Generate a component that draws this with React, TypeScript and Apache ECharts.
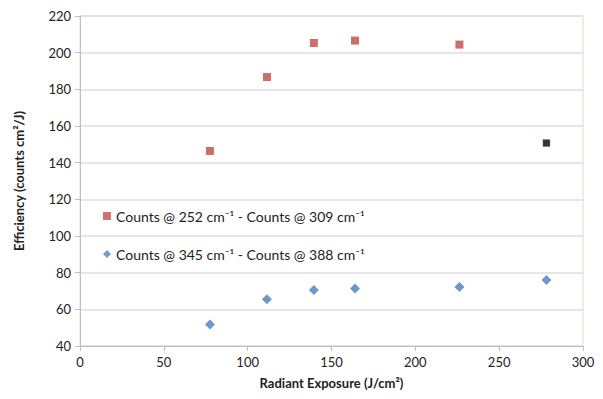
import React, { useEffect, useRef } from "react";
import * as echarts from "echarts";

const redName = "Counts @ 252 cm\u207B\u00B9 - Counts @ 309 cm\u207B\u00B9";
const blueName = "Counts @ 345 cm\u207B\u00B9 - Counts @ 388 cm\u207B\u00B9";

const exposure = [77.5, 111.5, 139.5, 164, 226.3];
const redValues = [146.4, 186.7, 205.3, 206.6, 204.4];
const blackPoint = [[278.2, 150.7]];
const blueExposure = [77.5, 111.5, 139.5, 164, 226.3, 278.2];
const blueValues = [51.7, 65.5, 70.5, 71.3, 72.2, 76];

const FONT = "Lato";

export default function App() {
  const ref = useRef<HTMLDivElement>(null);
  useEffect(() => {
    if (!ref.current) return;
    const chart = echarts.init(ref.current, undefined, { renderer: "svg" });
    chart.setOption({
      animation: false,
      backgroundColor: "#ffffff",
      textStyle: { fontFamily: FONT },
      grid: {
        left: 80,
        right: 20,
        top: 16,
        bottom: 53,
        show: true,
        borderColor: "#dcdccc",
        borderWidth: 1,
      },
      legend: {
        orient: "vertical",
        left: 98,
        top: 204,
        itemGap: 24,
        itemWidth: 8,
        itemHeight: 8,
        textStyle: { fontFamily: FONT, fontSize: 14, color: "#222" },
        data: [
          { name: redName, icon: "rect", itemStyle: { color: "#c0504d" } },
          { name: blueName, icon: "diamond", itemStyle: { color: "#4f81bd" } },
        ],
      },
      xAxis: {
        type: "value",
        min: 0,
        max: 300,
        interval: 50,
        name: "Radiant Exposure (J/cm\u00B2)",
        nameLocation: "middle",
        nameGap: 30,
        nameTextStyle: { fontFamily: FONT, fontSize: 13, fontWeight: "bold", color: "#222" },
        axisLine: { show: true, lineStyle: { color: "#bfbfbf" } },
        axisTick: { show: true, length: 5, lineStyle: { color: "#bfbfbf" } },
        axisLabel: { fontFamily: FONT, fontSize: 13, color: "#222", margin: 9 },
        splitLine: { show: false },
      },
      yAxis: {
        type: "value",
        min: 40,
        max: 220,
        interval: 20,
        name: "Efficiency (counts cm\u00B2/J)",
        nameLocation: "middle",
        nameGap: 55,
        nameTextStyle: { fontFamily: FONT, fontSize: 13, fontWeight: "bold", color: "#222" },
        axisLine: { show: true, lineStyle: { color: "#bfbfbf" } },
        axisTick: { show: true, length: 5, lineStyle: { color: "#bfbfbf" } },
        axisLabel: { fontFamily: FONT, fontSize: 13, color: "#222", margin: 9 },
        splitLine: { show: true, lineStyle: { color: "#dedede", width: 1.5 } },
      },
      series: [
        {
          name: redName,
          type: "scatter",
          symbol: "rect",
          symbolSize: 8,
          itemStyle: { color: "#be4b48" },
          data: exposure.map((x, i) => [x, redValues[i]]),
        },
        {
          name: blueName,
          type: "scatter",
          symbol: "diamond",
          symbolSize: 10,
          itemStyle: { color: "#4a7ebb" },
          data: blueExposure.map((x, i) => [x, blueValues[i]]),
        },
        {
          name: "outlier",
          type: "scatter",
          symbol: "rect",
          symbolSize: 7,
          itemStyle: { color: "#000000", borderColor: "#c0504d", borderWidth: 0.5 },
          data: blackPoint,
        },
      ],
    });
    return () => chart.dispose();
  }, []);
  return (
    <div
      ref={ref}
      style={{ position: "absolute", left: 0, top: 0, width: 603, height: 399 }}
    />
  );
}
